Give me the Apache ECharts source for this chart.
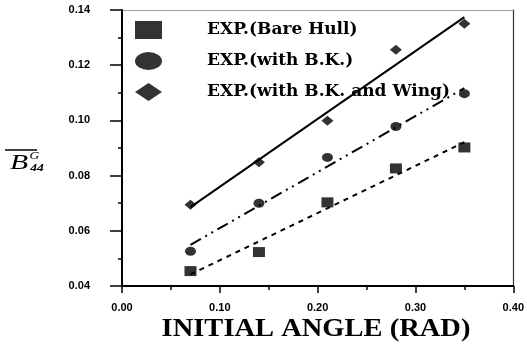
<!DOCTYPE html>
<html><head><meta charset="utf-8">
<script src="https://cdn.jsdelivr.net/npm/echarts@6/dist/echarts.min.js"></script>
<style>html,body{margin:0;padding:0;background:#fff}#c{width:527px;height:344px}</style>
</head><body><div id="c"></div>
<script>
// Roll-damping coefficient against initial heel angle
const angles = [0.07, 0.14, 0.21, 0.28, 0.35];
const bareHull = [0.0454, 0.0523, 0.0703, 0.0826, 0.0902];
const withBK = [0.0526, 0.0700, 0.0866, 0.0978, 0.1097];
const withBKWing = [0.0694, 0.0848, 0.0999, 0.1256, 0.1350];

// Fitted straight lines (end points)
const fitX = [0.07, 0.35];
const fitBareHull = [0.0442, 0.0921];
const fitWithBK = [0.0549, 0.1117];
const fitWithBKWing = [0.0686, 0.1374];

// Axis ranges
const xRange = [0, 0.4];
const yRange = [0.04, 0.14];

const seriesNames = ['EXP.(Bare Hull)', 'EXP.(with B.K.)', 'EXP.(with B.K. and Wing)'];
const xTitle = 'INITIAL ANGLE (RAD)';

const pairs = (xs, ys) => xs.map((x, i) => [x, ys[i]]);
const ellipse = 'path://M0,9 A13.5,9 0 1,1 27,9 A13.5,9 0 1,1 0,9 Z';

const axisLabel = (margin) => ({
  margin, color: '#000', fontFamily: 'Liberation Sans', fontWeight: 'bold', fontSize: 11,
  formatter: v => v.toFixed(2)
});

// plain frame axis: only the line, no ticks or labels
const frameAxis = (position, range, color, width, type) => ({
  type: 'value', position, min: range[0], max: range[1],
  axisLine: { show: true, onZero: false, lineStyle: { color, width, type } },
  axisTick: { show: false }, axisLabel: { show: false }, splitLine: { show: false }
});

const chart = echarts.init(document.getElementById('c'));
chart.setOption({
  backgroundColor: '#fff',
  animation: false,
  grid: { left: 122, right: 13, top: 10, bottom: 58 },
  legend: {
    orient: 'vertical', left: 130, top: 16,
    itemWidth: 27, itemHeight: 18, itemGap: 13,
    selectedMode: false,
    data: [
      { name: seriesNames[0], icon: 'rect' },
      { name: seriesNames[1], icon: ellipse },
      { name: seriesNames[2], icon: 'diamond' }
    ],
    textStyle: { fontFamily: 'DejaVu Serif', fontWeight: 'bold', fontSize: 17, color: '#000', padding: [0, 0, 0, 40] }
  },
  xAxis: [{
    type: 'value', min: xRange[0], max: xRange[1], interval: 0.1, position: 'bottom',
    axisLine: { show: true, onZero: false, lineStyle: { color: '#000', width: 2 } },
    axisTick: { show: true, length: 7, lineStyle: { color: '#000', width: 1.5 } },
    minorTick: { show: true, splitNumber: 2, length: 4, lineStyle: { color: '#000', width: 1.5 } },
    splitLine: { show: false },
    axisLabel: axisLabel(16)
  }, frameAxis('top', xRange, '#888', 1, 'dotted')],
  yAxis: [{
    type: 'value', min: yRange[0], max: yRange[1], interval: 0.02, position: 'left',
    axisLine: { show: true, onZero: false, lineStyle: { color: '#000', width: 2 } },
    axisTick: { show: true, length: 12, lineStyle: { color: '#000', width: 1.5 } },
    minorTick: { show: true, splitNumber: 2, length: 4, lineStyle: { color: '#000', width: 1.5 } },
    splitLine: { show: false },
    axisLabel: axisLabel(32)
  }, frameAxis('right', yRange, '#333', 1.2, 'solid')],
  series: [
    { name: seriesNames[0], type: 'scatter', symbol: 'rect', symbolSize: [12, 10], itemStyle: { color: '#000' }, data: pairs(angles, bareHull), z: 3 },
    { name: seriesNames[1], type: 'scatter', symbol: 'circle', symbolSize: [11, 9], itemStyle: { color: '#000' }, data: pairs(angles, withBK), z: 3 },
    { name: seriesNames[2], type: 'scatter', symbol: 'diamond', symbolSize: [12, 10], itemStyle: { color: '#000' }, data: pairs(angles, withBKWing), z: 3 },
    { type: 'line', showSymbol: false, data: pairs(fitX, fitBareHull), lineStyle: { color: '#000', width: 2, type: [5, 5] } },
    { type: 'line', showSymbol: false, data: pairs(fitX, fitWithBK), lineStyle: { color: '#000', width: 2, type: [12, 5, 2, 5, 2, 5] } },
    { type: 'line', showSymbol: false, data: pairs(fitX, fitWithBKWing), lineStyle: { color: '#000', width: 2 } }
  ],
  graphic: [
    { id: 'xTitle', type: 'text', x: 316, y: 330, scaleX: 1.14,
      style: { text: xTitle, align: 'center', verticalAlign: 'middle', fontFamily: 'Liberation Serif', fontWeight: 'bold', fontSize: 25, fill: '#000' } },
    // y-axis symbol: overlined B with superscript G and subscript 44
    { id: 'yTitle', type: 'group', x: 10, y: 150, scaleX: 1.35, children: [
      { type: 'line', shape: { x1: -3.7, y1: 0, x2: 20, y2: 0 }, style: { stroke: '#000', lineWidth: 1.5 } },
      { type: 'text', x: 0, y: 13, style: { text: 'B', verticalAlign: 'middle', fontFamily: 'Liberation Serif', fontStyle: 'italic', fontSize: 22, fill: '#000' } },
      { type: 'text', x: 14.5, y: 6, style: { text: 'G', verticalAlign: 'middle', fontFamily: 'Liberation Serif', fontStyle: 'italic', fontSize: 10, fill: '#000' } },
      { type: 'text', x: 15, y: 18, style: { text: '44', verticalAlign: 'middle', fontFamily: 'Liberation Serif', fontStyle: 'italic', fontWeight: 'bold', fontSize: 10, fill: '#000' } }
    ] }
  ]
});

// Left and bottom frame edges, placed from the axes' own scales
const lo = chart.convertToPixel({ gridIndex: 0 }, [xRange[0], yRange[0]]);
const hi = chart.convertToPixel({ gridIndex: 0 }, [xRange[1], yRange[1]]);
const side = (id, x1, y1, x2, y2) => ({
  id, type: 'line', z: 5, silent: true,
  shape: { x1, y1, x2, y2 }, style: { stroke: '#000', lineWidth: 2 }
});
chart.setOption({
  graphic: [
    side('frameLeft', lo[0], lo[1] + 1, lo[0], hi[1]),
    side('frameBottom', lo[0], lo[1], hi[0], lo[1])
  ]
});
</script>
</body></html>
